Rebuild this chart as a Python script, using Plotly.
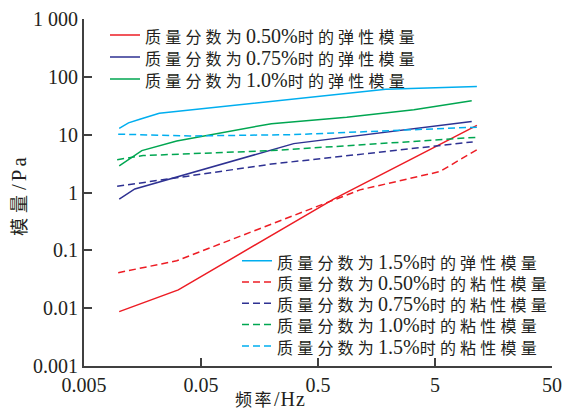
import plotly.graph_objects as go

# ---------------- data ----------------
freq_e050 = [0.01, 0.032, 0.68, 11.4]
g_e050 = [0.0087, 0.0207, 0.77, 14.5]

freq_e075 = [0.01, 0.0136, 0.31, 10.3]
g_e075 = [0.77, 1.15, 7.0, 16.9]

freq_e100 = [0.01, 0.0156, 0.031, 0.2, 0.88, 3.3, 10.3]
g_e100 = [2.9, 5.3, 7.8, 15.5, 20, 27, 38.5]

freq_e150 = [0.01, 0.012, 0.015, 0.022, 1.9, 11.4]
g_e150 = [12.8, 16, 18.5, 23.5, 61, 68]

freq_v050 = [0.0098, 0.031, 1.14, 5.5, 11.4]
g_v050 = [0.041, 0.066, 1.11, 2.3, 5.5]

freq_v075 = [0.0096, 0.2, 10.5]
g_v075 = [1.28, 3.1, 7.5]

freq_v100 = [0.0096, 0.016, 0.2, 11.4]
g_v100 = [3.7, 4.35, 5.3, 9.0]

freq_v150 = [0.0098, 0.04, 0.3, 11.4]
g_v150 = [10.2, 9.5, 10.0, 13.5]

series_names = [
    "质量分数为0.50%时的弹性模量",
    "质量分数为0.75%时的弹性模量",
    "质量分数为1.0%时的弹性模量",
    "质量分数为1.5%时的弹性模量",
    "质量分数为0.50%时的粘性模量",
    "质量分数为0.75%时的粘性模量",
    "质量分数为1.0%时的粘性模量",
    "质量分数为1.5%时的粘性模量",
]

x_tickvals = [0.005, 0.05, 0.5, 5, 50]
x_ticktext = ["0.005", "0.05", "0.5", "5", "50"]
y_tickvals = [0.001, 0.01, 0.1, 1, 10, 100, 1000]
y_ticktext = ["0.001", "0.01", "0.1", "1", "10", "100", "1 000"]

x_title = "频率/Hz"
y_title = "模量/Pa"

# ---------------- styling ----------------
RED = "#ed1c24"
NAVY = "#2e3192"
GREEN = "#00a651"
CYAN = "#00aeef"
TXT = "#231f20"
AXC = "#404040"
FONT = "Times New Roman, Liberation Serif, DejaVu Serif, Noto Sans CJK SC, serif"

W, H = 567, 413
ML, MR, MT, MB = 84, 15, 19, 47
PW, PH = W - ML - MR, H - MT - MB


def px_x(px):
    return (px - ML) / PW


def px_y(py):
    return 1 - (py - MT) / PH


def is_cjk(ch):
    return "\u4e00" <= ch <= "\u9fff"


def spaced(s, size=16, sp=4.2, latin_sp=0):
    """Smaller, letter-spaced CJK runs; Latin runs keep the base font."""
    style = f'font-size:{size}px;letter-spacing:{sp}px'
    lstyle = f'letter-spacing:{latin_sp}px'
    out, run, run_cjk = [], "", None

    def flush(r, c):
        if c:
            return f'<span style="{style}">{r}</span>'
        return f'<span style="{lstyle}">{r}</span>' if latin_sp else r

    for ch in s:
        c = is_cjk(ch)
        if run and c != run_cjk:
            out.append(flush(run, run_cjk))
            run = ""
        run += ch
        run_cjk = c
    if run:
        out.append(flush(run, run_cjk))
    return "".join(out)


DASH = "7px,4px"
series = [
    (freq_e050, g_e050, RED, "solid"),
    (freq_e075, g_e075, NAVY, "solid"),
    (freq_e100, g_e100, GREEN, "solid"),
    (freq_e150, g_e150, CYAN, "solid"),
    (freq_v050, g_v050, RED, DASH),
    (freq_v075, g_v075, NAVY, DASH),
    (freq_v100, g_v100, GREEN, DASH),
    (freq_v150, g_v150, CYAN, DASH),
]

# legend entry positions (pixel centres) and line-sample left edges
leg_pos = [
    (105, 35), (105, 57), (105, 79),
    (237, 260.7), (237, 282), (237, 303.3), (237, 324.6), (237, 345.9),
]

fig = go.Figure()
layout_legends = {}
for i, ((fx, gy, col, dash), name) in enumerate(zip(series, series_names)):
    lkey = "legend" if i == 0 else f"legend{i + 1}"
    fig.add_trace(go.Scatter(
        x=fx, y=gy, mode="lines", name=spaced(name),
        line=dict(color=col, width=1.5, dash=dash),
        legend=lkey, showlegend=True,
    ))
    lx, ly = leg_pos[i]
    layout_legends[lkey] = dict(
        x=px_x(lx), y=px_y(ly), xanchor="left", yanchor="middle",
        bgcolor="rgba(0,0,0,0)", borderwidth=0,
        font=dict(family=FONT, size=20, color=TXT),
        itemwidth=30,
    )

axis_common = dict(
    type="log", showline=True, linecolor=AXC, linewidth=2,
    ticks="inside", ticklen=8, tickwidth=1.5, tickcolor=AXC,
    showgrid=False, zeroline=False, mirror=False,
    tickfont=dict(family=FONT, size=20, color=TXT),
)

fig.update_layout(
    width=W, height=H,
    margin=dict(l=ML, r=MR, t=MT, b=MB, autoexpand=False),
    paper_bgcolor="white", plot_bgcolor="white",
    xaxis=dict(range=[-2.30103, 1.69897], tickvals=x_tickvals, ticktext=x_ticktext, **axis_common),
    yaxis=dict(range=[-3, 3], tickvals=y_tickvals, ticktext=y_ticktext, **axis_common),
    **layout_legends,
    annotations=[
        dict(text=spaced(x_title, 17, 2.5, 1), xref="paper", yref="paper",
             x=px_x(270), y=px_y(399), xanchor="center", yanchor="middle",
             showarrow=False, font=dict(family=FONT, size=20, color=TXT)),
        dict(text=spaced(y_title, 18, 5, 3), xref="paper", yref="paper",
             x=px_x(19), y=px_y(195), xanchor="center", yanchor="middle",
             textangle=-90, showarrow=False, font=dict(family=FONT, size=21, color=TXT)),
    ],
)

fig.write_html("out.html")
